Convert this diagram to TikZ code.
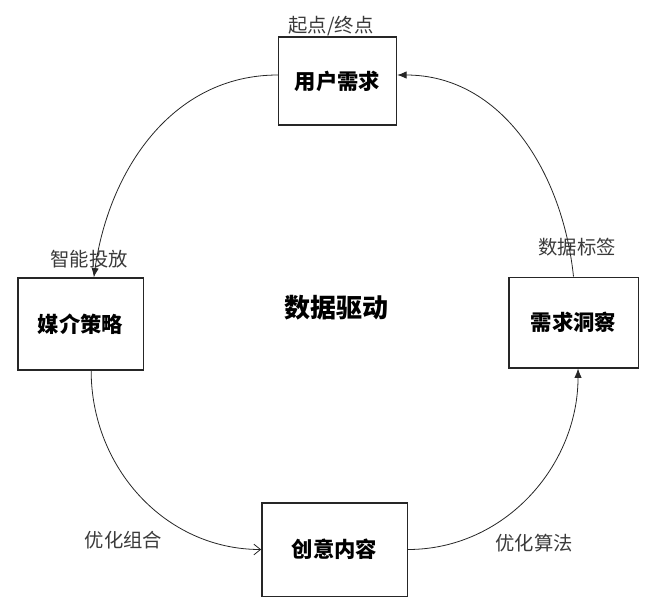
\documentclass[tikz,border=0pt]{standalone}
\usepackage{fontspec}
\setmainfont{Noto Sans CJK SC}
\usepackage{tikz}
\usetikzlibrary{arrows.meta,positioning,calc}
\usepackage{xcolor}
\definecolor{inkgray}{HTML}{3A3A3A}
\definecolor{linedark}{HTML}{262626}
\tikzset{
  stage/.style={draw=linedark, line width=1pt, fill=white, align=center, font=\fontsize{16}{19}\selectfont\bfseries, inner sep=2pt},
  tag/.style={text=inkgray, font=\fontsize{14.5}{17}\selectfont, inner sep=1pt},
  flow/.style={-{Latex[length=7pt,width=5.5pt]}, line width=0.6pt, draw=linedark},
  openflow/.style={-{Straight Barb[length=5pt,width=8pt]}, line width=0.6pt, draw=linedark}
}
\begin{document}
\begin{tikzpicture}[x=0.75pt, y=-0.75pt]
  \useasboundingbox (0,0) rectangle (660,615);
  \node[stage, minimum width=88.5pt, minimum height=66pt] (user) at (337.5,81) {用户需求};
  \node[stage, minimum width=94pt, minimum height=69pt] (media) at (80.5,324) {媒介策略};
  \node[stage, minimum width=97pt, minimum height=68pt] (insight) at (573.5,322.5) {需求洞察};
  \node[stage, minimum width=109pt, minimum height=70pt] (creative) at (334.5,549.5) {创意内容};
  \node[font=\fontsize{19.5}{23}\selectfont\bfseries] (core) at (336.5,308) {数据驱动};
  % edge notes
  \node[tag] (startnote) at (331,26) {起点/终点};
  \node[tag] (launchnote) at (89,259) {智能投放};
  \node[tag] (tagnote) at (577,247.5) {数据标签};
  \node[tag] (combonote) at (123.5,540) {优化组合};
  \node[tag] (algonote) at (534,543) {优化算法};
  % cycle
  \draw[flow] ([yshift=4.5pt]user.west) to[out=180, in=82] ([xshift=10pt]media.north);
  \draw[openflow] ([xshift=8pt]media.south) to[out=-90, in=180] (creative.west);
  \draw[flow] (creative.east) to[out=0, in=-90] ([xshift=3.4pt]insight.south);
  \draw[flow] (insight.north) to[out=96, in=0] ([yshift=4.5pt]user.east);
\end{tikzpicture}
\end{document}
